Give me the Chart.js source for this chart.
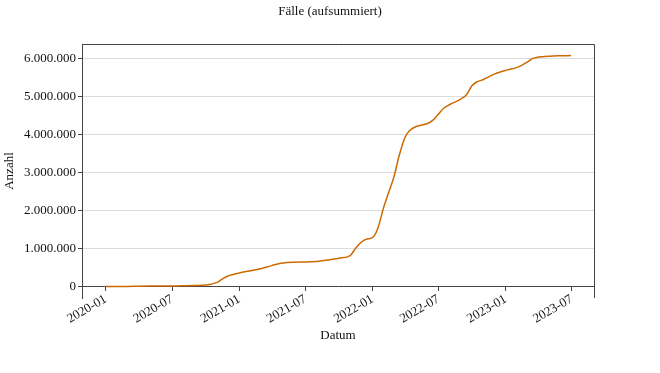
<!DOCTYPE html>
<html>
<head>
<meta charset="utf-8">
<script src="https://cdn.jsdelivr.net/npm/chart.js@4"></script>
<style>
  html, body { margin: 0; padding: 0; background: #fff; }
  #wrap { width: 660px; height: 373px; }
</style>
</head>
<body>
<div id="wrap"><canvas id="chart-canvas"></canvas></div>
<script>
"use strict";

// Cumulative cases
const dates = [
  "2020-01-01", "2020-02-01", "2020-03-01", "2020-04-01", "2020-05-01", "2020-06-01",
  "2020-07-01", "2020-08-01", "2020-09-01", "2020-10-01", "2020-10-15", "2020-11-01",
  "2020-11-15", "2020-12-01", "2020-12-15", "2021-01-01", "2021-02-01", "2021-03-01",
  "2021-04-01", "2021-05-01", "2021-06-01", "2021-07-01", "2021-08-01", "2021-09-01",
  "2021-10-01", "2021-11-01", "2021-11-15", "2021-12-01", "2021-12-15", "2022-01-01",
  "2022-01-15", "2022-02-01", "2022-02-15", "2022-03-01", "2022-03-15", "2022-04-01",
  "2022-04-15", "2022-05-01", "2022-06-01", "2022-06-15", "2022-07-01", "2022-07-15",
  "2022-08-01", "2022-09-01", "2022-09-15", "2022-10-01", "2022-10-15", "2022-11-01",
  "2022-12-01", "2023-01-01", "2023-02-01", "2023-03-01", "2023-03-15", "2023-04-01",
  "2023-05-01", "2023-06-01", "2023-06-29"
];

const cases = [
  0, 0, 2000, 11000, 15500, 17000,
  18500, 21000, 27000, 42000, 65000, 110000,
  200000, 280000, 320000, 360000, 420000, 470000,
  560000, 625000, 645000, 650000, 665000, 700000,
  750000, 820000, 1000000, 1170000, 1250000, 1290000,
  1520000, 2100000, 2500000, 2900000, 3450000, 3950000,
  4130000, 4220000, 4300000, 4380000, 4550000, 4700000,
  4800000, 4950000, 5050000, 5300000, 5400000, 5460000,
  5600000, 5700000, 5780000, 5920000, 6010000, 6050000,
  6075000, 6085000, 6090000
];

const xTickLabels = ["2020-01", "2020-07", "2021-01", "2021-07", "2022-01", "2022-07", "2023-01", "2023-07"];
const yTickValues = [0, 1000000, 2000000, 3000000, 4000000, 5000000, 6000000];

const DAY = 24 * 3600 * 1000;
const toTime = (s) => {
  const p = s.split("-").map(Number);
  return Date.UTC(p[0], p[1] - 1, p[2] || 1);
};

const points = dates.map((d, i) => ({ x: toTime(d), y: cases[i] }));
const xTicks = xTickLabels.map(toTime);

const pad2 = (n) => (n < 10 ? "0" + n : "" + n);
const fmtMonth = (t) => {
  const d = new Date(t);
  return d.getUTCFullYear() + "-" + pad2(d.getUTCMonth() + 1);
};
const fmtGerman = (v) => String(Math.round(v)).replace(/\B(?=(\d{3})+(?!\d))/g, ".");

const FONT = "'Liberation Serif', 'DejaVu Serif', serif";
const TEXT = "#111";
const FRAME = "#444";

// top and right spines of the plot box
const framePlugin = {
  id: "frame",
  afterDraw(chart) {
    const { ctx, chartArea: a } = chart;
    ctx.save();
    ctx.strokeStyle = FRAME;
    ctx.lineWidth = 1;
    ctx.beginPath();
    ctx.moveTo(a.left, a.top + 0.5);
    ctx.lineTo(a.right + 0.5, a.top + 0.5);
    ctx.lineTo(a.right + 0.5, a.bottom);
    ctx.stroke();
    ctx.restore();
  }
};

const config = {
  type: "line",
  data: {
    datasets: [{
      label: "Fälle",
      data: points,
      borderColor: "#cc6a00",
      borderWidth: 1.5,
      pointRadius: 0,
      fill: false,
      cubicInterpolationMode: "monotone"
    }]
  },
  options: {
    responsive: true,
    maintainAspectRatio: false,
    animation: false,
    layout: { padding: { top: 0, right: 0, bottom: 75, left: 0 } },
    plugins: {
      legend: { display: false },
      tooltip: { enabled: false },
      title: {
        display: true,
        text: "Fälle (aufsummiert)",
        color: TEXT,
        font: { family: FONT, size: 13, weight: "normal" },
        padding: { top: 4, bottom: 24.4 }
      }
    },
    scales: {
      x: {
        type: "linear",
        position: { y: 0 },
        min: toTime("2020-01-01") - 65 * DAY,
        max: toTime("2023-07-01") + 61 * DAY,
        afterBuildTicks: (scale) => { scale.ticks = xTicks.map((v) => ({ value: v })); },
        grid: { drawOnChartArea: false, drawTicks: true, tickLength: 4, tickColor: FRAME },
        border: { display: true, color: FRAME, width: 1 },
        ticks: {
          color: TEXT,
          font: { family: FONT, size: 13 },
          minRotation: 30,
          maxRotation: 30,
          padding: 1,
          callback: (v) => fmtMonth(v)
        },
        title: {
          display: true,
          text: "Datum",
          color: TEXT,
          font: { family: FONT, size: 13 },
          padding: { top: 0, bottom: 0 }
        }
      },
      y: {
        min: -300000,
        max: 6395000,
        afterBuildTicks: (scale) => { scale.ticks = yTickValues.map((v) => ({ value: v })); },
        afterFit: (scale) => { scale.width = 82; },
        grid: { color: "#dcdcdc", lineWidth: 1, tickLength: 4, tickColor: FRAME },
        border: { display: true, color: FRAME, width: 1 },
        ticks: {
          color: TEXT,
          font: { family: FONT, size: 13 },
          padding: 2,
          callback: (v) => fmtGerman(v)
        },
        title: {
          display: true,
          text: "Anzahl",
          color: TEXT,
          font: { family: FONT, size: 13 },
          padding: { top: 2, bottom: 2 }
        }
      },
      // empty right margin, keeps the figure title centred on the canvas
      margin: {
        type: "linear",
        position: "right",
        display: true,
        grid: { display: false, drawTicks: false },
        border: { display: false },
        ticks: { display: false },
        afterFit: (scale) => { scale.width = 66; }
      }
    }
  },
  plugins: [framePlugin]
};

const canvas = document.querySelector("#chart-canvas");
const chart = new Chart(canvas, config);
</script>
</body>
</html>
